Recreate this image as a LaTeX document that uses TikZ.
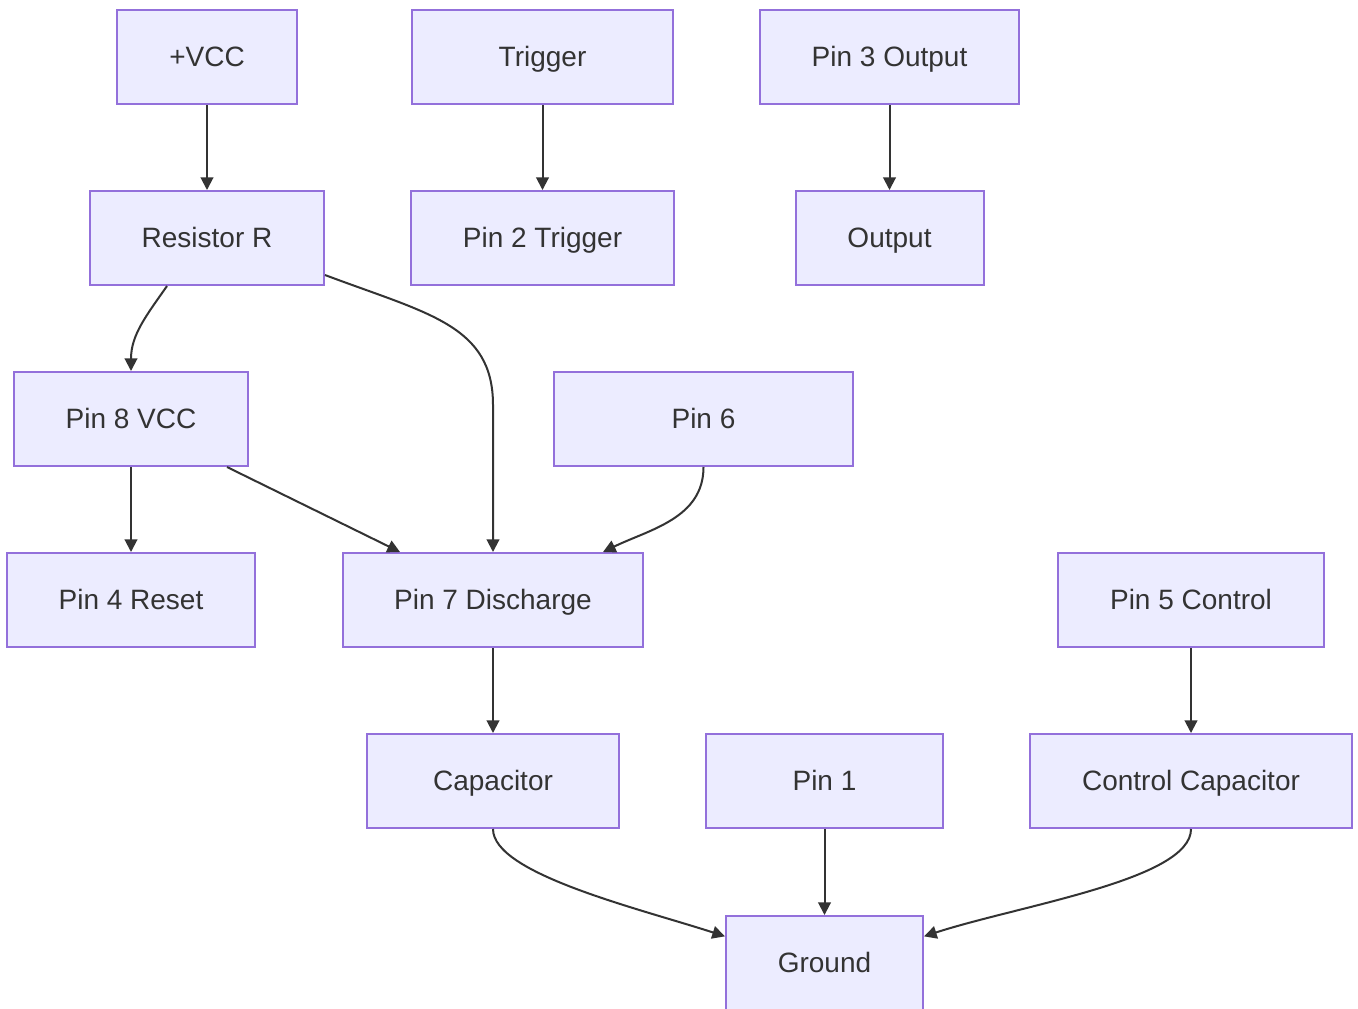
\documentclass[tikz,border=0pt]{standalone}
\usepackage{fontspec}
\setmainfont{Liberation Sans}
\usetikzlibrary{arrows.meta}
\definecolor{boxfill}{HTML}{ECECFF}
\definecolor{boxline}{HTML}{9370DB}
\definecolor{inkgrey}{HTML}{333333}
\begin{document}
\begin{tikzpicture}
[x=0.75pt,y=-0.75pt,
  boxdecorate/.style={shape=rectangle,draw=boxline,fill=boxfill,line width=1.5pt,
    minimum height=70.5pt,inner sep=0pt,text height=16pt,text depth=1.4pt,
    text=inkgrey,font=\fontsize{21pt}{24pt}\selectfont},%
  linedecorate/.style={-{Triangle[length=9.5pt,width=9.5pt]},draw=inkgrey,line width=1.5pt}]
\useasboundingbox[fill=white] (0,0) rectangle (1358,1008);
% nodes or boxes
\node (vcc) at (207,57) [boxdecorate,minimum width=135pt] {+VCC};
\node (trig) at (542.5,57) [boxdecorate,minimum width=195.75pt] {Trigger};
\node (p3) at (889.5,57) [boxdecorate,minimum width=194.25pt] {Pin 3 Output};
\node (res) at (207,238) [boxdecorate,minimum width=175.5pt] {Resistor R};
\node (p2) at (542.5,238) [boxdecorate,minimum width=197.25pt] {Pin 2 Trigger};
\node (out) at (889.5,238) [boxdecorate,minimum width=141pt] {Output};
\node (p8) at (131,419) [boxdecorate,minimum width=175.5pt] {Pin 8 VCC};
\node (p6) at (703.5,419) [boxdecorate,minimum width=224.25pt] {Pin 6};
\node (p4) at (131,600) [boxdecorate,minimum width=186pt] {Pin 4 Reset};
\node (p7) at (493,600) [boxdecorate,minimum width=225pt] {Pin 7 Discharge};
\node (p5) at (1191,600) [boxdecorate,minimum width=199.5pt] {Pin 5 Control};
\node (cap) at (493,781) [boxdecorate,minimum width=189pt] {Capacitor};
\node (p1) at (824.5,781) [boxdecorate,minimum width=177.75pt] {Pin 1};
\node (ccap) at (1191,781) [boxdecorate,minimum width=241.5pt] {Control Capacitor};
\node (gnd) at (824.5,963) [boxdecorate,minimum width=147.75pt] {Ground};
% edges or arrows
\path
(vcc) edge[linedecorate] (res)
(trig) edge[linedecorate] (p2)
(p3) edge[linedecorate] (out)
([xshift=-30pt]res.south) edge[linedecorate,out=-125,in=90] (p8.north)
(p8) edge[linedecorate] (p4)
([xshift=-16.5pt]p8.south east) edge[linedecorate] ([xshift=-69.75pt]p7.north)
(p6.south) edge[linedecorate,out=-90,in=26] ([xshift=82.5pt]p7.north)
(p7) edge[linedecorate] (cap)
(p5) edge[linedecorate] (ccap)
(cap.south) edge[linedecorate,out=-90,in=162,out looseness=0.45,in looseness=0.9] ([yshift=20pt]gnd.west)
(p1) edge[linedecorate] (gnd)
(ccap.south) edge[linedecorate,out=-90,in=18,out looseness=0.45,in looseness=0.9] ([yshift=20pt]gnd.east);
\draw[linedecorate] ([yshift=-27.75pt]res.east) .. controls +(77pt,-29pt) and +(0,60pt) .. (p7.north |- 0,405) -- (p7.north);
\end{tikzpicture}
\end{document}
